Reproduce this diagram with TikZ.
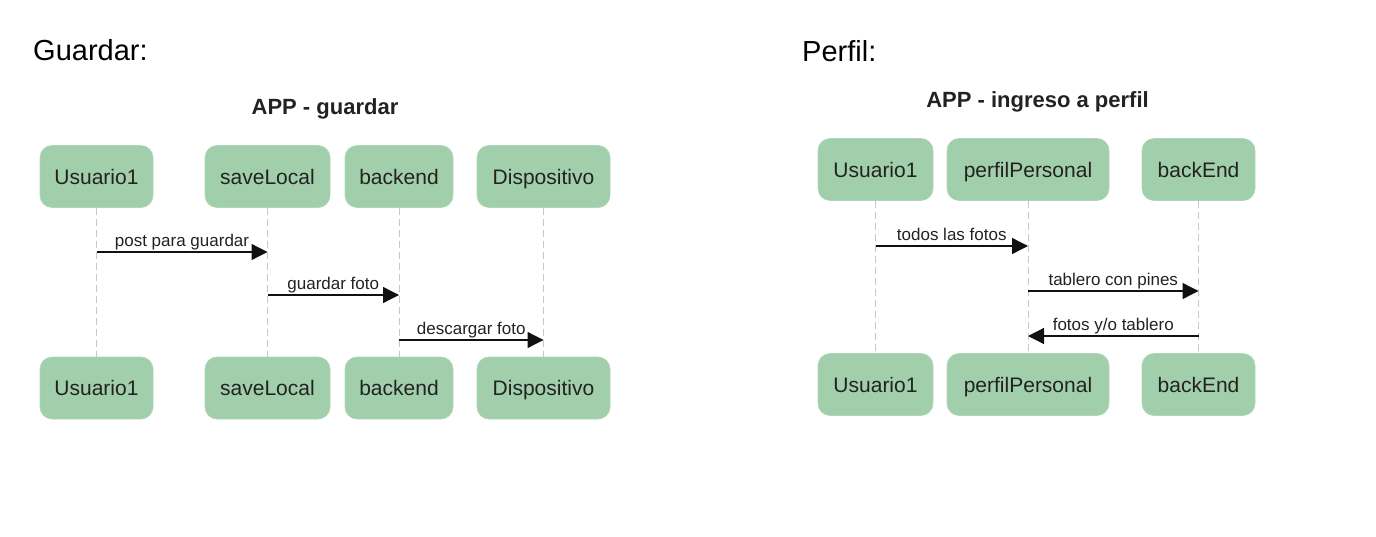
\documentclass[tikz,border=0pt]{standalone}
\usepackage{fontspec}
\setmainfont{Liberation Sans}
\usetikzlibrary{arrows.meta,calc}
\definecolor{boxgreen}{HTML}{A1CFAB}
\definecolor{boxtext}{HTML}{222222}
\definecolor{lifegray}{HTML}{C8C8C8}
\definecolor{msgcol}{HTML}{111111}
\begin{document}
\begin{tikzpicture}[x=1pt,y=-1pt,
  actor/.style={rectangle, rounded corners=12pt, fill=boxgreen, draw=boxgreen!85!white, line width=0.6pt,
    inner sep=0pt, minimum height=62pt, text=boxtext,
    font=\fontsize{21}{24}\selectfont, text height=15pt, text depth=-3pt},
  life/.style={draw=lifegray, line width=1pt, dash pattern=on 7pt off 4pt},
  msg/.style={draw=msgcol, line width=1.3pt, -{Triangle[length=16pt,width=16pt]}},
  msglabel/.style={anchor=base, yshift=6pt, inner sep=0pt, text=boxtext, font=\fontsize{17}{20}\selectfont},
  heading/.style={anchor=base west, inner sep=0pt, font=\fontsize{29}{34}\selectfont},
  dtitle/.style={anchor=base, inner sep=0pt, text=boxtext, font=\fontsize{22}{26}\selectfont\bfseries}]
\useasboundingbox (0,0) rectangle (1376,536);

% headings
\node[heading] (hg) at (33,60) {Guardar:};
\node[heading] (hp) at (802,61) {Perfil:};

% ===== Left diagram =====
\node[dtitle] (tg) at (325,114) {APP - guardar};

\node[actor, minimum width=113pt] (ua) at (96.5,176.5) {Usuario1};
\node[actor, minimum width=125pt] (sa) at (267.5,176.5) {saveLocal};
\node[actor, minimum width=108pt] (ba) at (399,176.5) {backend};
\node[actor, minimum width=133pt] (da) at (543.5,176.5) {Dispositivo};

\node[actor, minimum width=113pt] (ub) at (96.5,388) {Usuario1};
\node[actor, minimum width=125pt] (sb) at (267.5,388) {saveLocal};
\node[actor, minimum width=108pt] (bb) at (399,388) {backend};
\node[actor, minimum width=133pt] (db) at (543.5,388) {Dispositivo};

\foreach \a/\b in {ua/ub, sa/sb, ba/bb, da/db}
  \draw[life] (\a.south) -- (\b.north);

\draw[msg] (ua.south |- 0,252) -- node[msglabel] (l1) {post para guardar} (sa.south |- 0,252);
\draw[msg] (sa.south |- 0,295) -- node[msglabel] (l2) {guardar foto} (ba.south |- 0,295);
\draw[msg] (ba.south |- 0,340) -- node[msglabel] (l3) {descargar foto} (da.south |- 0,340);

% ===== Right diagram =====
\node[dtitle] (tp) at (1037.5,107) {APP - ingreso a perfil};

\node[actor, minimum width=115pt] (ur) at (875.5,169.5) {Usuario1};
\node[actor, minimum width=162pt] (pr) at (1028,169.5) {perfilPersonal};
\node[actor, minimum width=113pt] (er) at (1198.5,169.5) {backEnd};

\node[actor, minimum width=115pt] (us) at (875.5,384.5) {Usuario1};
\node[actor, minimum width=162pt] (ps) at (1028,384.5) {perfilPersonal};
\node[actor, minimum width=113pt] (es) at (1198.5,384.5) {backEnd};

\foreach \a/\b in {ur/us, pr/ps, er/es}
  \draw[life] (\a.south) -- (\b.north);

\draw[msg] (ur.south |- 0,246) -- node[msglabel] (m1) {todos las fotos} (pr.south |- 0,246);
\draw[msg] (pr.south |- 0,291) -- node[msglabel] (m2) {tablero con pines} (er.south |- 0,291);
\draw[msg] (er.south |- 0,336) -- node[msglabel] (m3) {fotos y/o tablero} (pr.south |- 0,336);
\end{tikzpicture}
\end{document}
